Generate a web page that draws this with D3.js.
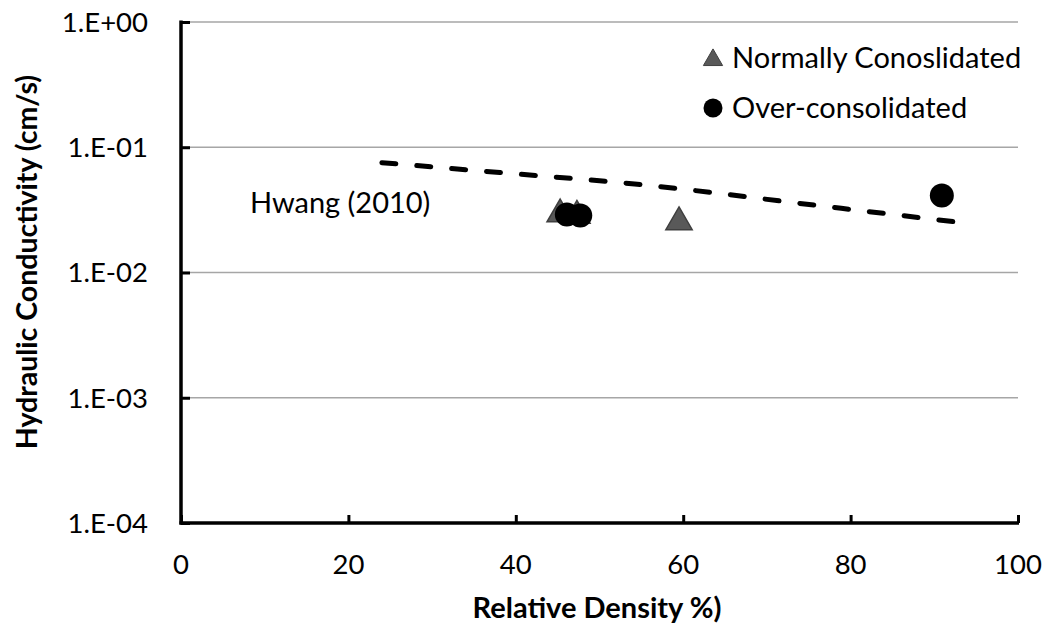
<!DOCTYPE html>
<html>
<head>
<meta charset="utf-8">
<script src="https://cdn.jsdelivr.net/npm/d3@7/dist/d3.min.js"></script>
<style>
  html, body { margin: 0; padding: 0; background: #fff; }
  svg text { font-family: Lato, "Open Sans", sans-serif; fill: #000; }
</style>
</head>
<body>
<svg id="chart" width="1047" height="628"></svg>
<script>
// Normally consolidated samples: relative density (%) and hydraulic conductivity (cm/s)
const ncDensity = [45.3, 47.3, 59.5];
const ncK = [0.0303, 0.0295, 0.0262];

// Over-consolidated samples
const ocDensity = [46.1, 47.7, 90.9];
const ocK = [0.0290, 0.0285, 0.0412];

// Hwang (2010) relationship
const hwangDensity = [24.0, 38.1, 54.2, 76.3, 93.5];
const hwangK = [0.0753, 0.0628, 0.0509, 0.0341, 0.0249];

const xTicks = [0, 20, 40, 60, 80, 100];
const yTicks = [1e0, 1e-1, 1e-2, 1e-3, 1e-4];
const yTickLabels = ["1.E+00", "1.E-01", "1.E-02", "1.E-03", "1.E-04"];

const svg = d3.select("#chart");
const plotLeft = 181, plotRight = 1018, plotTop = 22, plotBottom = 523;

const x = d3.scaleLinear().domain([0, 100]).range([plotLeft, plotRight]);
const y = d3.scaleLog().domain([1e-4, 1]).range([plotBottom, plotTop]);

// horizontal gridlines
svg.append("g").selectAll("line").data(yTicks.filter(d => d > 1e-4)).join("line")
  .attr("x1", plotLeft).attr("x2", plotRight)
  .attr("y1", d => y(d)).attr("y2", d => y(d))
  .attr("stroke", "#a6a6a6").attr("stroke-width", 1.5);

// y axis: ticks pointing into the plot
const yAxis = d3.axisRight(y).tickValues(yTicks).tickSize(9).tickFormat("");
const gy = svg.append("g").attr("transform", `translate(${plotLeft},0)`).call(yAxis);
gy.select(".domain").remove();
gy.selectAll(".tick line").attr("stroke", "#000").attr("stroke-width", 3);

// x axis: ticks pointing up into the plot
const xAxis = d3.axisTop(x).tickValues(xTicks).tickSize(8).tickFormat("");
const gx = svg.append("g").attr("transform", `translate(0,${plotBottom})`).call(xAxis);
gx.select(".domain").remove();
gx.selectAll(".tick line").attr("stroke", "#000").attr("stroke-width", 3);

// axis lines
svg.append("line").attr("x1", plotLeft).attr("x2", plotLeft).attr("y1", plotTop - 1.5).attr("y2", plotBottom + 1.5)
  .attr("stroke", "#000").attr("stroke-width", 3.5);
svg.append("line").attr("x1", plotLeft - 1.5).attr("x2", plotRight + 1).attr("y1", plotBottom).attr("y2", plotBottom)
  .attr("stroke", "#000").attr("stroke-width", 3.5);

// tick labels
svg.append("g").selectAll("text").data(yTicks).join("text")
  .attr("x", 148).attr("y", d => y(d)).attr("dy", "0.36em")
  .attr("text-anchor", "end").attr("font-size", 27.5)
  .text((d, i) => yTickLabels[i]);

svg.append("g").selectAll("text").data(xTicks).join("text")
  .attr("x", d => x(d)).attr("y", 574)
  .attr("text-anchor", "middle").attr("font-size", 27.5)
  .text(d => d);

// axis titles
svg.append("text").attr("x", 597).attr("y", 618)
  .attr("text-anchor", "middle").attr("font-size", 29).attr("font-weight", "bold")
  .text("Relative Density %)");

svg.append("text").attr("transform", "translate(37,262) rotate(-90)")
  .attr("text-anchor", "middle").attr("font-size", 28.5).attr("font-weight", "bold")
  .text("Hydraulic Conductivity (cm/s)");

// Hwang (2010) dashed relationship
const hwang = hwangDensity.map((d, i) => [d, hwangK[i]]);
svg.append("path").datum(hwang)
  .attr("d", d3.line().x(d => x(d[0])).y(d => y(d[1])).curve(d3.curveMonotoneX))
  .attr("fill", "none").attr("stroke", "#000").attr("stroke-width", 5)
  .attr("stroke-dasharray", "14,21").attr("stroke-linecap", "round");

svg.append("text").attr("x", 250).attr("y", 213).attr("font-size", 29)
  .text("Hwang (2010)");

// markers
const tri = d3.symbol().type(d3.symbolTriangle).size(300);
svg.append("g").selectAll("path").data(ncDensity.map((d, i) => [d, ncK[i]])).join("path")
  .attr("d", tri)
  .attr("transform", d => `translate(${x(d[0])},${y(d[1]) + 2})`)
  .attr("fill", "#595959").attr("stroke", "#3f3f3f").attr("stroke-width", 1.5);

svg.append("g").selectAll("circle").data(ocDensity.map((d, i) => [d, ocK[i]])).join("circle")
  .attr("cx", d => x(d[0])).attr("cy", d => y(d[1])).attr("r", 12)
  .attr("fill", "#000");

// legend
const legend = svg.append("g");
legend.append("path").attr("d", d3.symbol().type(d3.symbolTriangle).size(160))
  .attr("transform", "translate(713,60)")
  .attr("fill", "#595959").attr("stroke", "#3f3f3f").attr("stroke-width", 1);
legend.append("text").attr("x", 732).attr("y", 58).attr("dy", "0.36em").attr("font-size", 29)
  .text("Normally Conoslidated");
legend.append("circle").attr("cx", 713).attr("cy", 108).attr("r", 9.5).attr("fill", "#000");
legend.append("text").attr("x", 732).attr("y", 108).attr("dy", "0.36em").attr("font-size", 29)
  .text("Over-consolidated");
</script>
</body>
</html>
